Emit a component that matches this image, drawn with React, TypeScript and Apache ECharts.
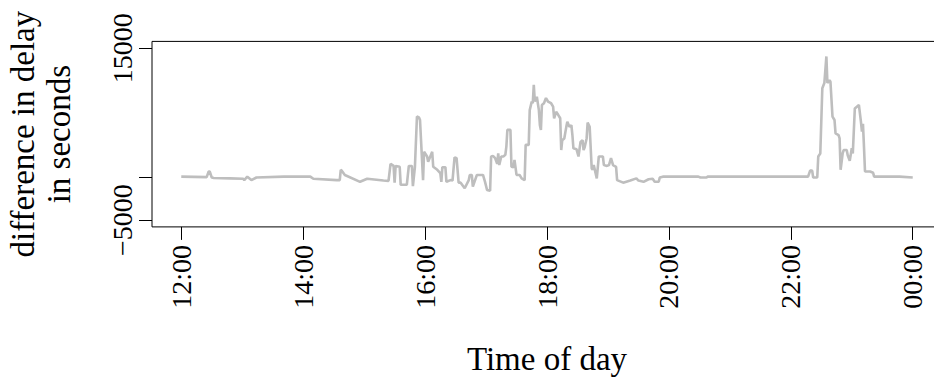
import React, { useEffect, useRef } from "react";
import * as echarts from "echarts";

// Time of day (HH:MM, 12:00 through midnight) and the delay difference in seconds
const times = [
  "12:00", "12:25", "12:27", "12:28", "12:30", "12:32", "12:48", "13:01", "13:02", "13:05",
  "13:09", "13:14", "13:41", "14:07", "14:10", "14:33", "14:36", "14:37", "14:38", "14:41",
  "14:56", "15:03", "15:19", "15:24", "15:26", "15:29", "15:30", "15:31", "15:35", "15:36",
  "15:42", "15:44", "15:47", "15:48", "15:50", "15:52", "15:54", "15:55", "15:56", "15:58",
  "15:59", "16:02", "16:03", "16:07", "16:08", "16:12", "16:15", "16:16", "16:17", "16:20",
  "16:21", "16:25", "16:27", "16:29", "16:31", "16:33", "16:35", "16:39", "16:43", "16:44",
  "16:46", "16:47", "16:51", "16:57", "16:59", "17:01", "17:04", "17:05", "17:07", "17:09",
  "17:11", "17:12", "17:13", "17:15", "17:17", "17:19", "17:20", "17:21", "17:24", "17:25",
  "17:27", "17:28", "17:30", "17:33", "17:35", "17:38", "17:39", "17:42", "17:43", "17:45",
  "17:46", "17:47", "17:48", "17:50", "17:52", "17:53", "17:54", "17:55", "17:57", "17:59",
  "18:01", "18:04", "18:06", "18:07", "18:09", "18:11", "18:13", "18:14", "18:15", "18:17",
  "18:19", "18:20", "18:22", "18:24", "18:25", "18:26", "18:29", "18:31", "18:33", "18:35",
  "18:36", "18:37", "18:39", "18:40", "18:42", "18:44", "18:45", "18:46", "18:49", "18:51",
  "18:55", "18:56", "18:59", "19:01", "19:03", "19:05", "19:08", "19:09", "19:15", "19:22",
  "19:28", "19:30", "19:35", "19:40", "19:44", "19:46", "19:50", "19:51", "19:54", "20:29",
  "20:31", "20:37", "20:38", "22:17", "22:19", "22:21", "22:22", "22:26", "22:27", "22:29",
  "22:31", "22:33", "22:35", "22:36", "22:38", "22:39", "22:41", "22:43", "22:44", "22:47",
  "22:48", "22:49", "22:51", "22:52", "22:55", "22:56", "22:58", "23:00", "23:01", "23:03",
  "23:05", "23:07", "23:09", "23:10", "23:11", "23:12", "23:13", "23:18", "23:21", "23:22",
  "23:47", "00:00",
];

const delay = [
  50, 0, 650, 650, -50, -100, -150, -200, -350, 50,
  -350, -50, 50, 50, -200, -350, -350, 850, 750, 250,
  -550, -200, -400, -450, 1550, 1300, -650, 1300, 1200, -900,
  -900, 1300, 1300, -1050, 1200, 7050, 6950, 6650, 4300, -350,
  2950, 2400, 1800, 2950, 1200, 850, 450, -550, 1150, 1150,
  -550, -350, -400, 2300, 2200, -650, -650, -1300, -350, 250,
  250, -1100, 250, 250, -550, -1500, -1600, 2400, 2450, 2200,
  1550, 2750, 1400, 2400, 2400, 2600, 3550, 5500, 5500, 1200,
  1150, 2000, 250, 250, -150, -350, 3750, 3750, 7800, 8800,
  8600, 10750, 8800, 9350, 7800, 6050, 5500, 8400, 8600, 9200,
  8800, 8600, 8200, 6850, 7600, 7250, 6850, 3150, 4300, 4500,
  5850, 6450, 5850, 6050, 4900, 3350, 3250, 2400, 4100, 4300,
  3150, 3450, 4500, 6350, 5850, 1000, 850, 1400, -150, 2400,
  2400, 1400, 1300, 1400, 2200, 1400, 1200, -350, -650, -400,
  -150, -400, -550, -250, -200, -550, -550, -50, 50, 50,
  -50, -50, 50, 50, 750, 750, -50, -50, 2400, 2750,
  10350, 10950, 14050, 10950, 11300, 11100, 7050, 6650, 5100, 4900,
  4500, 850, 2750, 3150, 3150, 2550, 1900, 3350, 2750, 8000,
  8200, 8400, 6450, 5300, 6200, 3550, 650, 650, 500, 50,
  50, -50,
];

// Axis ticks: x in hours after midnight (24 = 00:00 next day), y in seconds
const xTicks = [12, 14, 16, 18, 20, 22, 24];
const yTicks = [-5000, 0, 15000];
const yLabels = [-5000, 15000];

const toHours = (t: string) => {
  const [h, m] = t.split(":").map(Number);
  const hh = h < 12 ? h + 24 : h;
  return hh + m / 60;
};

const fmtHour = (v: number) => {
  const h = Math.round(v) % 24;
  return (h < 10 ? "0" + h : String(h)) + ":00";
};

const fmtValue = (v: number) => (v < 0 ? "\u2212" + Math.abs(v) : String(v));

const FONT = "'Liberation Serif', 'Times New Roman', serif";

export default function App() {
  const ref = useRef<HTMLDivElement>(null);

  useEffect(() => {
    if (!ref.current) return;
    const chart = echarts.init(ref.current, undefined, { renderer: "svg" });

    const points = times.map((t, i) => [toHours(t), delay[i]]);
    const xSpan = xTicks[xTicks.length - 1] - xTicks[0];
    const ySpan = yTicks[yTicks.length - 1] - yTicks[0];

    chart.setOption({
      animation: false,
      backgroundColor: "#ffffff",
      grid: {
        left: 152,
        top: 41.4,
        width: 790,
        height: 185.5,
        show: true,
        borderColor: "#000000",
        borderWidth: 1,
        backgroundColor: "transparent",
        containLabel: false,
        outerBoundsMode: "none",
      },
      xAxis: {
        type: "value",
        min: xTicks[0] - xSpan * 0.04,
        max: xTicks[xTicks.length - 1] + xSpan * 0.04,
        axisLine: { show: false, onZero: false },
        splitLine: { show: false },
        axisTick: {
          show: true,
          length: 13,
          inside: false,
          customValues: xTicks,
          lineStyle: { color: "#000000", width: 1 },
        },
        axisLabel: {
          customValues: xTicks,
          rotate: 90,
          margin: 18,
          color: "#000000",
          fontFamily: FONT,
          fontSize: 28,
          formatter: (v: number) => fmtHour(v),
        },
        name: "Time of day",
        nameLocation: "middle",
        nameGap: 116,
        nameTextStyle: { color: "#000000", fontFamily: FONT, fontSize: 33 },
      },
      yAxis: {
        type: "value",
        min: yTicks[0] - ySpan * 0.04,
        max: yTicks[yTicks.length - 1] + ySpan * 0.04,
        axisLine: { show: false, onZero: false },
        splitLine: { show: false },
        axisTick: {
          show: true,
          length: 13,
          inside: false,
          customValues: yTicks,
          lineStyle: { color: "#000000", width: 1 },
        },
        axisLabel: {
          customValues: yLabels,
          rotate: 90,
          margin: 16,
          color: "#000000",
          fontFamily: FONT,
          fontSize: 28,
          formatter: (v: number) => fmtValue(v),
        },
        name: "difference in delay\nin seconds",
        nameLocation: "middle",
        nameRotate: 90,
        nameGap: 75,
        nameTextStyle: {
          color: "#000000",
          fontFamily: FONT,
          fontSize: 33,
          lineHeight: 36,
          align: "center",
        },
      },
      series: [
        {
          type: "line",
          data: points,
          showSymbol: false,
          symbol: "none",
          lineStyle: { color: "#BEBEBE", width: 2.6 },
          silent: true,
        },
      ],
    });

    return () => chart.dispose();
  }, []);

  return (
    <div
      ref={ref}
      style={{ position: "fixed", left: 0, top: 0, width: 934, height: 382 }}
    />
  );
}
